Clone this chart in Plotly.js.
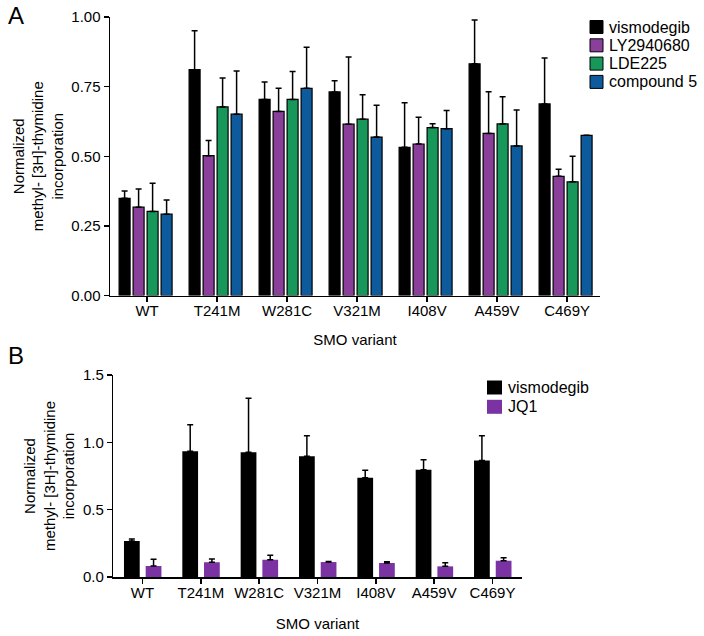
<!DOCTYPE html>
<html>
<head>
<meta charset="utf-8">
<script src="https://cdn.plot.ly/plotly-3.0.1.min.js"></script>
<style>html,body{margin:0;padding:0;background:#fff;}#chart{width:704px;height:636px;}</style>
</head>
<body>
<div id="chart"></div>
<script>
const variants = ["WT", "T241M", "W281C", "V321M", "I408V", "A459V", "C469Y"];

// Panel A
const visA = [0.349, 0.811, 0.704, 0.731, 0.532, 0.832, 0.688];
const visAErr = [0.026, 0.140, 0.063, 0.040, 0.160, 0.157, 0.165];
const ly = [0.317, 0.502, 0.661, 0.615, 0.544, 0.582, 0.428];
const lyErr = [0.065, 0.055, 0.083, 0.241, 0.096, 0.150, 0.025];
const lde = [0.302, 0.677, 0.704, 0.633, 0.603, 0.616, 0.408];
const ldeErr = [0.101, 0.104, 0.100, 0.088, 0.014, 0.098, 0.092];
const cmp5 = [0.292, 0.651, 0.744, 0.569, 0.599, 0.537, 0.575];
const cmp5Err = [0.051, 0.155, 0.147, 0.114, 0.065, 0.129, 0];

// Panel B
const visB = [0.267, 0.933, 0.926, 0.896, 0.737, 0.797, 0.866];
const visBErr = [0.015, 0.198, 0.401, 0.153, 0.055, 0.074, 0.183];
const jq1 = [0.082, 0.109, 0.128, 0.111, 0.104, 0.079, 0.121];
const jq1Err = [0.049, 0.025, 0.033, 0.004, 0.010, 0.027, 0.022];

const seriesNamesA = ["vismodegib", "LY2940680", "LDE225", "compound 5"];
const seriesNamesB = ["vismodegib", "JQ1"];

const FONT = "Liberation Sans, Arial, Helvetica, sans-serif";
const colorsA = ["#000000", "#8a3f9b", "#17975a", "#0d5a9c"];
const colorsB = ["#000000", "#7b32a3"];
const zeros = variants.map(() => 0);

function errs(arr) {
  return {type: "data", symmetric: false, array: arr, arrayminus: zeros,
          color: "#000", thickness: 1.5, width: 3};
}

function barA(i, y, e, off) {
  return {type: "bar", name: seriesNamesA[i], x: variants, y: y, xaxis: "x", yaxis: "y",
    width: 0.157, offset: off, showlegend: false,
    marker: {color: colorsA[i], line: {color: "#000", width: 1.2}},
    error_y: errs(e)};
}
function barB(i, y, e, off) {
  return {type: "bar", name: seriesNamesB[i], x: variants, y: y, xaxis: "x2", yaxis: "y2",
    width: 0.27, offset: off, showlegend: false,
    marker: {color: colorsB[i], line: {width: 0}},
    error_y: errs(e)};
}

const traces = [
  barA(0, visA, visAErr, -0.4),
  barA(1, ly, lyErr, -0.2),
  barA(2, lde, ldeErr, 0.0),
  barA(3, cmp5, cmp5Err, 0.2),
  barB(0, visB, visBErr, -0.317),
  barB(1, jq1, jq1Err, 0.055)
];

const axisCommon = {
  showgrid: false, zeroline: false, showline: true, linecolor: "#000", linewidth: 1.5,
  ticks: "outside", ticklen: 5, tickwidth: 1.5, tickcolor: "#000",
  tickfont: {family: FONT, size: 15, color: "#000"}
};

const ytitle = "Normalized<br>methyl- [3H]-thymidine<br>incorporation";

// legend built from shapes + text (tight row spacing like the reference)
const W = 704, H = 636;
const shapes = [];
const annotations = [
  {text: "A", x: 6/W, y: 1, xref: "paper", yref: "paper",
   xanchor: "left", yanchor: "top", showarrow: false,
   font: {family: FONT, size: 24, color: "#000"}},
  {text: "B", x: 6/W, y: 1 - 340/H, xref: "paper", yref: "paper",
   xanchor: "left", yanchor: "top", showarrow: false,
   font: {family: FONT, size: 24, color: "#000"}}
];
function legendRows(names, colors, x0, y0, step, sw, sh, outline) {
  names.forEach((n, i) => {
    const cy = y0 + i * step;
    shapes.push({type: "rect", xref: "paper", yref: "paper",
      x0: x0/W, x1: (x0 + sw)/W, y0: 1 - (cy - sh/2)/H, y1: 1 - (cy + sh/2)/H,
      fillcolor: colors[i], line: {color: "#000", width: outline ? 1 : 0}});
    annotations.push({text: n, xref: "paper", yref: "paper",
      x: (x0 + sw + 4)/W, y: 1 - cy/H, xanchor: "left", yanchor: "middle",
      showarrow: false, font: {family: FONT, size: 16, color: "#000"}});
  });
}
legendRows(seriesNamesA, colorsA, 590, 27, 18.3, 13, 13, true);
legendRows(seriesNamesB, colorsB, 487, 387.5, 19.3, 15, 14, false);

const layout = {
  width: W, height: H,
  margin: {l: 0, r: 0, t: 0, b: 0},
  paper_bgcolor: "#fff", plot_bgcolor: "#fff",
  barmode: "overlay",
  showlegend: false,
  font: {family: FONT, color: "#000"},
  xaxis: Object.assign({}, axisCommon, {
    domain: [110/W, 600/W], range: [-0.53, 6.47], anchor: "y",
    type: "category", ticklabelstandoff: -4,
    title: {text: "SMO variant", font: {family: FONT, size: 15, color: "#000"}, standoff: 16}
  }),
  yaxis: Object.assign({}, axisCommon, {
    domain: [(H-295.5)/H, (H-17)/H], range: [0, 1.0], anchor: "x",
    tickvals: [0, 0.25, 0.5, 0.75, 1.0], tickformat: ".2f",
    title: {text: ytitle, font: {family: FONT, size: 15, color: "#000"}, standoff: 4}
  }),
  xaxis2: Object.assign({}, axisCommon, {
    domain: [113.3/W, 521.7/W], range: [-0.5, 6.5], anchor: "y2",
    type: "category", ticklabelstandoff: -4,
    title: {text: "SMO variant", font: {family: FONT, size: 15, color: "#000"}, standoff: 19}
  }),
  yaxis2: Object.assign({}, axisCommon, {
    domain: [(H-577)/H, (H-375)/H], range: [0, 1.5], anchor: "x2",
    tickvals: [0, 0.5, 1.0, 1.5], tickformat: ".1f",
    title: {text: ytitle, font: {family: FONT, size: 15, color: "#000"}, standoff: 4}
  }),
  shapes: shapes,
  annotations: annotations
};

Plotly.newPlot("chart", traces, layout, {staticPlot: true, displayModeBar: false});
</script>
</body>
</html>
